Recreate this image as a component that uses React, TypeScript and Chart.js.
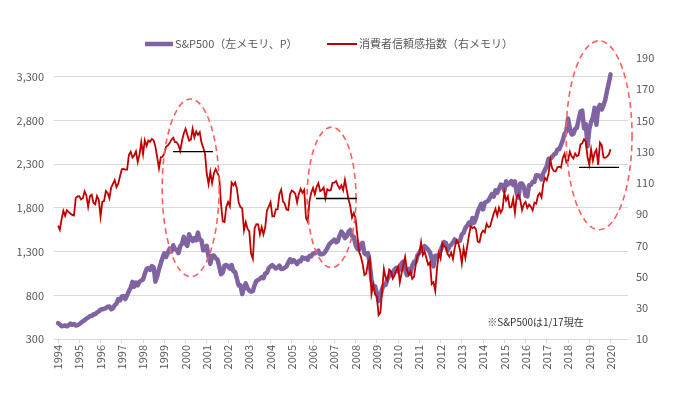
import React, { useEffect, useRef } from "react";
import { Chart, registerables } from "chart.js";

Chart.register(...registerables);

const START_YEAR = 1994;

// S&P500 monthly (Jan 1994 .. Jan 2020)
const sp500: number[] = [
  481, 467, 446, 451, 457, 444, 458, 476, 463, 472, 454, 459,
  470, 487, 501, 515, 533, 545, 562, 562, 584, 582, 605, 616,
  636, 640, 646, 654, 669, 671, 640, 652, 687, 705, 757, 741,
  786, 791, 757, 801, 848, 885, 954, 900, 947, 915, 955, 970,
  980, 1049, 1102, 1112, 1091, 1134, 1121, 957, 1017, 1099, 1164, 1229,
  1280, 1238, 1286, 1335, 1302, 1373, 1329, 1320, 1283, 1363, 1389, 1469,
  1395, 1366, 1499, 1452, 1421, 1455, 1431, 1518, 1437, 1429, 1315, 1320,
  1366, 1240, 1160, 1250, 1256, 1224, 1211, 1134, 1041, 1060, 1140, 1148,
  1130, 1107, 1147, 1077, 1067, 990, 912, 916, 815, 886, 936, 880,
  856, 841, 848, 917, 964, 975, 990, 1008, 996, 1051, 1058, 1112,
  1131, 1145, 1126, 1107, 1121, 1141, 1102, 1104, 1115, 1130, 1174, 1212,
  1181, 1204, 1181, 1157, 1192, 1191, 1234, 1220, 1229, 1207, 1250, 1248,
  1280, 1281, 1295, 1311, 1270, 1270, 1277, 1304, 1336, 1378, 1401, 1418,
  1438, 1407, 1421, 1482, 1531, 1503, 1455, 1474, 1527, 1549, 1481, 1468,
  1379, 1331, 1323, 1386, 1400, 1280, 1267, 1283, 1166, 969, 896, 903,
  826, 735, 798, 873, 919, 919, 988, 1021, 1057, 1036, 1096, 1115,
  1074, 1105, 1169, 1187, 1089, 1031, 1102, 1049, 1141, 1183, 1181, 1258,
  1286, 1327, 1326, 1364, 1345, 1321, 1292, 1219, 1131, 1253, 1247, 1258,
  1312, 1366, 1409, 1398, 1310, 1362, 1379, 1407, 1441, 1412, 1416, 1426,
  1498, 1515, 1569, 1598, 1631, 1606, 1686, 1633, 1682, 1757, 1806, 1848,
  1783, 1860, 1872, 1884, 1924, 1960, 1931, 2003, 1972, 2018, 2068, 2059,
  1995, 2105, 2068, 2086, 2107, 2063, 2104, 1972, 1920, 2079, 2080, 2044,
  1940, 1932, 2060, 2065, 2097, 2099, 2174, 2171, 2168, 2126, 2199, 2239,
  2279, 2364, 2363, 2384, 2412, 2423, 2470, 2472, 2519, 2575, 2648, 2674,
  2824, 2714, 2641, 2648, 2705, 2718, 2816, 2902, 2914, 2712, 2760, 2507,
  2704, 2785, 2834, 2946, 2752, 2942, 2980, 2927, 2977, 3038, 3141, 3231,
  3330,
];

// Consumer confidence index monthly (Jan 1994 .. Jan 2020)
const consumerConfidence: number[] = [
  82.6, 79.9, 86.7, 92.1, 88.9, 92.5, 91.3, 90.4, 89.5, 89.1, 100.4, 101.3,
  101.4, 99.4, 100.2, 104.6, 102.0, 94.6, 101.4, 102.4, 97.3, 96.3, 101.6, 99.2,
  88.4, 98.0, 98.4, 104.8, 103.5, 100.1, 107.0, 109.4, 111.8, 107.3, 109.5, 114.2,
  118.7, 118.9, 118.5, 118.5, 127.9, 129.9, 126.3, 127.6, 130.2, 123.4, 128.1, 136.2,
  128.3, 137.4, 133.8, 137.2, 136.3, 138.2, 137.2, 133.1, 126.4, 119.3, 126.4, 126.7,
  128.9, 133.1, 134.0, 135.5, 137.7, 139.0, 136.2, 136.0, 134.2, 130.5, 137.0, 141.7,
  144.7, 140.8, 137.1, 137.7, 144.7, 139.2, 143.0, 140.8, 142.5, 135.8, 132.6, 128.6,
  115.7, 109.2, 116.9, 109.9, 116.1, 118.9, 116.3, 114.0, 97.0, 85.3, 84.9, 94.6,
  97.8, 95.0, 110.2, 108.5, 110.3, 106.3, 97.4, 94.5, 93.7, 79.6, 84.9, 80.7,
  78.8, 64.8, 61.4, 81.0, 83.6, 83.5, 77.0, 81.7, 77.0, 81.7, 92.5, 94.8,
  97.7, 88.5, 88.5, 93.0, 93.1, 102.8, 105.7, 98.2, 96.7, 92.9, 92.6, 102.7,
  105.1, 104.4, 103.0, 97.5, 103.1, 106.2, 103.6, 105.5, 87.5, 85.2, 98.3, 103.8,
  106.8, 102.7, 107.5, 109.8, 104.7, 105.4, 107.0, 100.2, 105.9, 105.1, 105.3, 110.0,
  110.2, 111.2, 108.2, 106.3, 108.5, 105.3, 111.9, 105.6, 99.5, 95.2, 87.8, 90.6,
  87.3, 76.4, 65.9, 62.8, 58.1, 51.0, 51.9, 58.5, 61.4, 38.8, 44.7, 38.6,
  37.4, 25.3, 26.9, 40.8, 54.8, 49.3, 47.4, 54.5, 53.4, 48.7, 50.6, 53.6,
  56.5, 46.4, 52.3, 57.7, 62.7, 54.3, 51.0, 53.2, 48.6, 49.9, 57.8, 63.4,
  64.8, 72.0, 63.8, 66.0, 61.7, 57.6, 59.2, 45.2, 46.4, 40.9, 55.2, 64.8,
  61.5, 71.6, 69.5, 68.7, 64.4, 62.7, 65.4, 61.3, 68.4, 73.1, 71.5, 66.7,
  58.4, 68.0, 61.9, 69.0, 76.2, 82.1, 81.0, 81.8, 80.2, 72.4, 72.0, 77.5,
  79.4, 78.3, 83.9, 81.7, 82.2, 86.4, 90.3, 93.4, 89.0, 94.1, 91.0, 93.1,
  103.8, 98.8, 101.4, 94.3, 94.6, 99.8, 91.0, 101.3, 102.6, 99.1, 92.6, 96.3,
  97.8, 94.0, 96.1, 94.7, 92.4, 97.4, 96.7, 101.8, 103.5, 100.8, 109.4, 113.3,
  111.6, 116.1, 124.9, 119.4, 117.6, 117.3, 120.0, 120.4, 119.8, 125.9, 128.6, 123.1,
  124.3, 130.0, 127.0, 125.6, 128.8, 127.1, 127.9, 134.7, 135.3, 137.9, 136.4, 126.6,
  121.7, 131.4, 124.2, 129.2, 131.3, 121.5, 135.8, 134.2, 126.3, 126.1, 126.8, 128.2,
  131.6,
];

const yearTicks: number[] = [
  1994, 1995, 1996, 1997, 1998, 1999, 2000, 2001, 2002, 2003, 2004, 2005, 2006,
  2007, 2008, 2009, 2010, 2011, 2012, 2013, 2014, 2015, 2016, 2017, 2018, 2019, 2020,
];
const leftTicks: number[] = [300, 800, 1300, 1800, 2300, 2800, 3300];
const rightTicks: number[] = [10, 30, 50, 70, 90, 110, 130, 150, 170, 190];

const seriesNames = ["S&P500（左メモリ、P）", "消費者信頼感指数（右メモリ）"];
const footnote = "※S&P500は1/17現在";

// highlight ellipses: center (year, right-axis value), half-width (years), half-height (index points)
const ellipseYears = [2000.24, 2006.87, 2019.46];
const ellipseValues = [106.8, 100.7, 140.5];
const ellipseHalfYears = [1.34, 1.15, 1.55];
const ellipseHalfValues = [56.9, 45, 60.5];

// horizontal reference lines on right axis
const refLineFrom = [1999.41, 2006.14, 2018.52];
const refLineTo = [2001.29, 2008.07, 2020.4];
const refLineValues = [130, 100, 120];

const FONT = '"Noto Sans CJK JP", "Noto Sans", sans-serif';
const TEXT = "#595959";
const PURPLE = "#8064A2";
const RED = "#C00000";

export default function App() {
  const ref = useRef<HTMLCanvasElement | null>(null);

  useEffect(() => {
    document.body.style.margin = "0";
    const canvas = ref.current;
    if (!canvas) return;

    const spPoints = sp500.map((v, i) => ({ x: START_YEAR + i / 12, y: v }));
    const ccPoints = consumerConfidence.map((v, i) => ({ x: START_YEAR + i / 12, y: v }));

    const overlay = {
      id: "overlay",
      afterDatasetsDraw(chart: any) {
        const { ctx } = chart;
        const x = chart.scales.x;
        const yR = chart.scales.yR;
        ctx.save();
        ctx.setLineDash([6, 4]);
        ctx.strokeStyle = "#FF5F5F";
        ctx.lineWidth = 1.6;
        for (let i = 0; i < ellipseYears.length; i++) {
          const cx = x.getPixelForValue(ellipseYears[i]);
          const cy = yR.getPixelForValue(ellipseValues[i]);
          const rx = Math.abs(x.getPixelForValue(ellipseYears[i] + ellipseHalfYears[i]) - cx);
          const ry = Math.abs(yR.getPixelForValue(ellipseValues[i] + ellipseHalfValues[i]) - cy);
          ctx.beginPath();
          ctx.ellipse(cx, cy, rx, ry, 0, 0, Math.PI * 2);
          ctx.stroke();
        }
        ctx.setLineDash([]);
        ctx.strokeStyle = "#000000";
        ctx.lineWidth = 1.3;
        for (let i = 0; i < refLineValues.length; i++) {
          const yy = yR.getPixelForValue(refLineValues[i]);
          ctx.beginPath();
          ctx.moveTo(x.getPixelForValue(refLineFrom[i]), yy);
          ctx.lineTo(x.getPixelForValue(refLineTo[i]), yy);
          ctx.stroke();
        }
        // footnote
        ctx.fillStyle = "#333333";
        ctx.font = `10px ${FONT}`;
        ctx.textBaseline = "middle";
        ctx.textAlign = "left";
        ctx.fillText(footnote, x.getPixelForValue(2014.2), yR.getPixelForValue(21));
        ctx.restore();
      },
      afterDraw(chart: any) {
        const { ctx } = chart;
        ctx.save();
        const ly = 44;
        ctx.font = `11px ${FONT}`;
        ctx.fillStyle = TEXT;
        ctx.textBaseline = "middle";
        ctx.textAlign = "left";
        ctx.lineCap = "butt";
        ctx.strokeStyle = PURPLE;
        ctx.lineWidth = 4.5;
        ctx.beginPath();
        ctx.moveTo(145, ly);
        ctx.lineTo(173, ly);
        ctx.stroke();
        ctx.fillText(seriesNames[0], 175, ly);
        ctx.strokeStyle = RED;
        ctx.lineWidth = 2;
        ctx.beginPath();
        ctx.moveTo(327, ly);
        ctx.lineTo(357, ly);
        ctx.stroke();
        ctx.fillText(seriesNames[1], 359, ly);
        ctx.restore();
      },
    };

    const chart = new Chart(canvas, {
      type: "line",
      data: {
        datasets: [
          {
            label: seriesNames[1],
            data: ccPoints,
            yAxisID: "yR",
            borderColor: RED,
            borderWidth: 1.8,
            pointRadius: 0,
            tension: 0,
            order: 0,
          },
          {
            label: seriesNames[0],
            data: spPoints,
            yAxisID: "yL",
            borderColor: PURPLE,
            borderWidth: 4.5,
            pointRadius: 0,
            tension: 0,
            borderJoinStyle: "round",
            borderCapStyle: "round",
            order: 1,
          },
        ],
      },
      options: {
        responsive: false,
        animation: false,
        events: [],
        layout: { padding: { top: 58, left: 0, right: 0, bottom: 0 } },
        plugins: {
          legend: { display: false },
          tooltip: { enabled: false },
        },
        scales: {
          x: {
            type: "linear",
            min: 1993.81,
            max: 2020.82,
            afterBuildTicks: (axis: any) => {
              axis.ticks = yearTicks.map((v) => ({ value: v }));
            },
            afterFit: (scale: any) => {
              scale.height = 68;
            },
            grid: {
              drawOnChartArea: false,
              drawTicks: true,
              tickLength: 4,
              color: "#D9D9D9",
            },
            border: { display: true, color: "#D9D9D9" },
            ticks: {
              autoSkip: false,
              maxRotation: 90,
              minRotation: 90,
              padding: 2,
              color: TEXT,
              font: { family: FONT, size: 11 },
              callback: (v: any) => String(v),
            },
          },
          yL: {
            type: "linear",
            position: "left",
            min: 300,
            max: 3517,
            afterBuildTicks: (axis: any) => {
              axis.ticks = leftTicks.map((v) => ({ value: v }));
            },
            afterFit: (scale: any) => {
              scale.width = 54;
            },
            grid: { color: "#D9D9D9", drawTicks: false, lineWidth: 1 },
            border: { display: false },
            ticks: {
              padding: 10,
              color: TEXT,
              font: { family: FONT, size: 11 },
              callback: (v: any) => Number(v).toLocaleString("en-US"),
            },
          },
          yR: {
            type: "linear",
            position: "right",
            min: 10,
            max: 190,
            afterBuildTicks: (axis: any) => {
              axis.ticks = rightTicks.map((v) => ({ value: v }));
            },
            afterFit: (scale: any) => {
              scale.width = 47;
            },
            grid: { display: false, drawTicks: false },
            border: { display: false },
            ticks: {
              padding: 8,
              color: TEXT,
              font: { family: FONT, size: 11 },
            },
          },
        },
      },
      plugins: [overlay],
    } as any);

    return () => chart.destroy();
  }, []);

  return (
    <canvas
      ref={ref}
      width={675}
      height={407}
      style={{ display: "block", width: 675, height: 407 }}
    />
  );
}
